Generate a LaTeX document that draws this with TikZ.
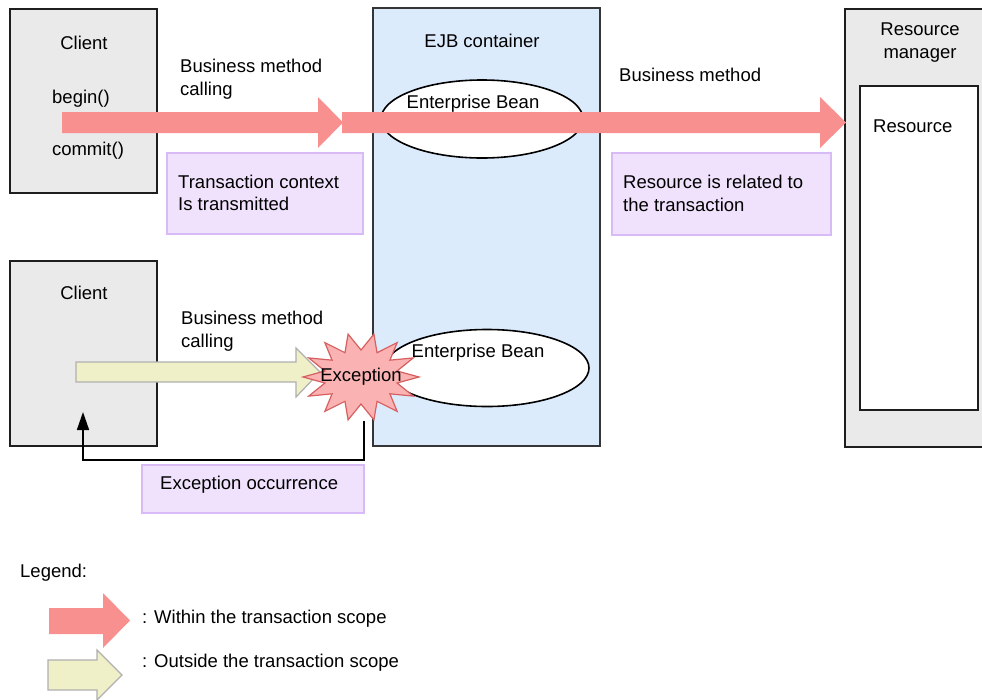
\documentclass[tikz,border=0pt]{standalone}
\usepackage{fontspec}
\setmainfont{Liberation Sans}
\usetikzlibrary{arrows.meta,shapes.geometric}
\definecolor{boxgray}{RGB}{234,234,234}
\definecolor{ejbblue}{RGB}{220,235,252}
\definecolor{notefill}{RGB}{240,226,252}
\definecolor{noteline}{RGB}{216,186,246}
\definecolor{txred}{RGB}{249,144,144}
\definecolor{noyel}{RGB}{240,240,200}
\definecolor{noyelline}{RGB}{176,176,176}
\definecolor{burstfill}{RGB}{250,178,178}
\definecolor{burstline}{RGB}{214,96,96}
\definecolor{frame}{RGB}{30,30,30}
\begin{document}
\begin{tikzpicture}[x=1pt,y=-1pt,
  txt/.style={font=\fontsize{18.5}{23}\selectfont, inner sep=0pt, text=black},
  party/.style={draw=frame, line width=1.6pt, fill=boxgray, inner sep=0pt},
  container/.style={draw=frame!90, line width=1.6pt, fill=ejbblue, inner sep=0pt},
  plainbox/.style={draw=frame, line width=1.6pt, fill=white, inner sep=0pt},
  note/.style={draw=noteline, line width=1.2pt, fill=notefill, inner sep=0pt},
  bean/.style={ellipse, draw=black, line width=1.6pt, fill=white, inner sep=0pt},
  inscope/.style={fill=txred},
  outscope/.style={fill=noyel, draw=noyelline, line width=1.2pt, line join=miter},
  burst/.style={fill=burstfill, draw=burstline, line width=1.2pt},
  retline/.style={draw=black, line width=1.6pt, -{Triangle[length=18pt,width=12pt]}}
]
\useasboundingbox (0,0) rectangle (982,699);
\fill[white] (0,0) rectangle (982,699);

% participant boxes
\node[party, minimum width=147, minimum height=184] (client1) at (83.5,101) {};
\node[party, minimum width=147, minimum height=185] (client2) at (83.5,353.5) {};
\node[container, minimum width=227, minimum height=438] (ejb) at (486.5,227) {};
\node[party, minimum width=150, minimum height=438] (rm) at (920,228) {};
\node[plainbox, minimum width=118, minimum height=324] (res) at (919,248) {};

% beans inside the container
\node[bean, minimum width=202, minimum height=78] (bean1) at (482,119) {};
\node[bean, minimum width=204, minimum height=77] (bean2) at (487,368) {};

% explanatory notes
\node[note, minimum width=196, minimum height=81] (note1) at (265,193.5) {};
\node[note, minimum width=219, minimum height=82] (note2) at (721.5,194) {};
\node[note, minimum width=222, minimum height=48] (note3) at (253,489) {};

% transactional call: client -> bean -> resource
\fill[inscope] (62,112) -- (318,112) -- (318,97) -- (343,122.5) -- (318,148) -- (318,133) -- (62,133) -- cycle;
\fill[inscope] (342,112) -- (820,112) -- (820,97) -- (846,122.5) -- (820,148) -- (820,133) -- (342,133) -- cycle;

% non-transactional call ending in an exception
\draw[outscope] (76,362) -- (296,362) -- (296,348) -- (320,372) -- (296,397) -- (296,382) -- (76,382) -- cycle;
\draw[burst] plot[samples at={0,...,27}, variable=\k]
  ({361+ifthenelse(mod(\k,2)==0,58,37)*cos(\k*360/28)},
   {377+ifthenelse(mod(\k,2)==0,44,27)*sin(\k*360/28)}) -- cycle;
\node[txt] (exc) at (361,377) {Exception};

% exception returned to the client
\coordinate (excdrop) at (364,421);
\coordinate (retin) at (83,412);
\draw[retline] (excdrop) -- ++(0,39) -| (retin);

% labels
\node[txt, anchor=base] (c1) at (84,49) {Client};
\node[txt, anchor=base] (c1b) at (81,103) {begin()};
\node[txt, anchor=base] (c1c) at (88,155) {commit()};
\node[txt, anchor=base west] (bm1a) at (180,72) {Business method};
\node[txt, anchor=base west] (bm1b) at (180,95) {calling};
\node[txt, anchor=base west] (n1a) at (178,188) {Transaction context};
\node[txt, anchor=base west] (n1b) at (178,210) {Is transmitted};
\node[txt, anchor=base] (ejbl) at (482,47) {EJB container};
\node[txt, anchor=base] (b1l) at (473,108) {Enterprise Bean};
\node[txt, anchor=base] (b2l) at (478,357) {Enterprise Bean};
\node[txt, anchor=base west] (bm2) at (619,81) {Business method};
\node[txt, anchor=base west] (n2a) at (623,188) {Resource is related to};
\node[txt, anchor=base west] (n2b) at (623,211) {the transaction};
\node[txt, anchor=base] (rma) at (920,35) {Resource};
\node[txt, anchor=base] (rmb) at (920,58) {manager};
\node[txt, anchor=base west] (resl) at (873,132) {Resource};
\node[txt, anchor=base] (c2) at (84,299) {Client};
\node[txt, anchor=base west] (bm3a) at (181,324) {Business method};
\node[txt, anchor=base west] (bm3b) at (181,347) {calling};
\node[txt, anchor=base west] (n3) at (160,489) {Exception occurrence};

% legend
\node[txt, anchor=base west] (leg) at (20,577) {Legend:};
\fill[inscope] (49,608) -- (103,608) -- (103,593) -- (130,620.5) -- (103,648) -- (103,634) -- (49,634) -- cycle;
\node[txt, anchor=base west] (leg1) at (142,623) {: Within the transaction scope};
\draw[outscope] (48,660) -- (97,660) -- (97,650) -- (122,675) -- (97,700) -- (97,690) -- (48,690) -- cycle;
\node[txt, anchor=base west] (leg2) at (142,667) {: Outside the transaction scope};
\end{tikzpicture}
\end{document}
